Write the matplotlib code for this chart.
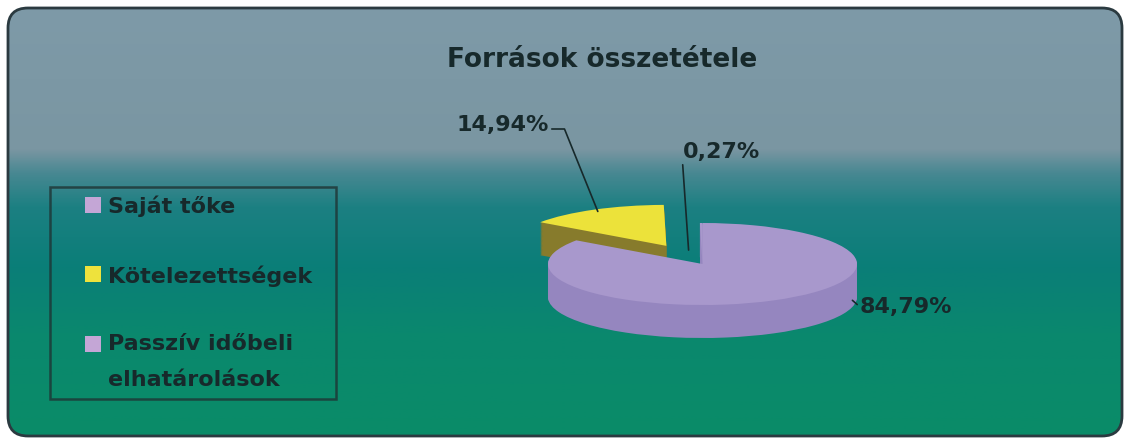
import numpy as np
import matplotlib
matplotlib.use('Agg')
import matplotlib.pyplot as plt
from matplotlib.patches import FancyBboxPatch, Rectangle
from matplotlib.legend_handler import HandlerPatch

# ---------------- data ----------------
title = "Források összetétele"
categories = ["Saját tőke", "Kötelezettségek", "Passzív időbeli\nelhatárolások"]
values = [84.79, 14.94, 0.27]
value_labels = ["84,79%", "14,94%", "0,27%"]

# ---------------- style ----------------
top_colors = ['#a898cc', '#ece23a', '#a898cc']
side_colors = ['#9586bf', '#877b2c', '#9586bf']
legend_colors = ['#c4a6d6', '#eee23c', '#c4a6d6']
explode = [0.0, 0.5, 0.0]
text_color = '#17292b'

W, H = 1129, 441
fig = plt.figure(figsize=(W / 100, H / 100), dpi=100)
fig.patch.set_facecolor('white')

# background panel with vertical gradient
bg = fig.add_axes([0, 0, 1, 1])
bg.set_xlim(0, W)
bg.set_ylim(H, 0)
bg.axis('off')
stops_f = [0.0, 0.33, 0.385, 0.465, 0.605, 0.76, 1.0]
stops_c = np.array([(126, 154, 168), (122, 150, 162), (72, 136, 146), (28, 128, 130),
                    (10, 126, 120), (10, 136, 110), (10, 140, 104)]) / 255.0
f = np.linspace(0, 1, 400)
grad = np.stack([np.interp(f, stops_f, stops_c[:, i]) for i in range(3)], axis=-1)
grad = np.repeat(grad[:, None, :], 2, axis=1)
box = FancyBboxPatch((8, 8), 1114, 428, boxstyle='round,pad=0,rounding_size=20',
                     transform=bg.transData, facecolor='none', edgecolor='#2b3a40', lw=2, zorder=5)
im = bg.imshow(grad, extent=(8, 1122, 436, 8), aspect='auto', zorder=0)
im.set_clip_path(box)
bg.add_patch(box)

fig.text(602 / W, 1 - 60 / H, title, ha='center', va='center', fontsize=19,
         fontweight='bold', color=text_color, family='DejaVu Sans')

# ---------------- 3D-ish pie ----------------
cx, cy, rx, ry = 702.5, 264.0, 154.5, 41.0   # pixel layout of the pie ellipse
ax = fig.add_axes([(cx - 1.6 * rx) / W, (H - cy - 2.0 * ry) / H, 3.2 * rx / W, 3.6 * ry / H])
depth = 33.0 / ry
n = 40
side_z = [3, 1, 3]
top_z = [4, 2, 4]
for k in range(n, 0, -1):
    off = depth * k / n
    ws, _ = ax.pie(values, colors=side_colors, explode=explode, startangle=90,
                   counterclock=False, center=(0, -off),
                   wedgeprops=dict(linewidth=0))
    for w, z in zip(ws, side_z):
        w.set_zorder(z)
wedges, _ = ax.pie(values, colors=top_colors, explode=explode, startangle=90,
                   counterclock=False, center=(0, 0),
                   wedgeprops=dict(linewidth=0))
for w, z in zip(wedges, top_z):
    w.set_zorder(z)
ax.set_aspect('auto')
ax.set_xlim(-1.6, 1.6)
ax.set_ylim(-2.0, 1.6)

# angles of slices
cum = np.concatenate([[0], np.cumsum(values)]) / np.sum(values)
mids = np.deg2rad(90 - 360 * (cum[:-1] + cum[1:]) / 2)

lp = dict(arrowstyle='-', color=text_color, lw=1.2, shrinkA=0, shrinkB=0)
lab_kw = dict(fontsize=16, fontweight='bold', color=text_color, family='DejaVu Sans',
              textcoords='figure pixels', annotation_clip=False, zorder=10)
# Kötelezettségek (exploded)
m = mids[1]
ex, ey = explode[1] * np.cos(m), explode[1] * np.sin(m)
ax.annotate(value_labels[1], xy=(ex + 0.95 * np.cos(m), ey + 0.95 * np.sin(m)),
            xytext=(549, H - 125), ha='right', va='center',
            arrowprops=dict(lp, relpos=(1, 0.3),
                            connectionstyle='angle,angleA=0,angleB=112,rad=0'),
            **lab_kw)
# Passzív
ax.annotate(value_labels[2], xy=(-0.09, 0.34), xytext=(721, H - 152),
            ha='center', va='center', arrowprops=dict(lp, relpos=(0.0, 0.1)), **lab_kw)
# Saját tőke
a = np.deg2rad(-14)
ax.annotate(value_labels[0], xy=(np.cos(a), np.sin(a) - depth * 0.8), xytext=(860, H - 307),
            ha='left', va='center', arrowprops=dict(lp, relpos=(0, 0.5)), **lab_kw)


# ---------------- legend ----------------
def square_handle(legend, orig_handle, xdescent, ydescent, width, height, fontsize):
    s = 0.72 * fontsize
    return Rectangle((-xdescent + width - s, -ydescent + (height - s) / 2), s, s)


handles = [Rectangle((0, 0), 1, 1, facecolor=c, edgecolor='none') for c in legend_colors]
leg = fig.legend(handles, categories, loc='upper left',
                 bbox_to_anchor=(50 / W, 1 - 187 / H - 0.01, 286 / W, 0.01), mode='expand',
                 frameon=True, fancybox=False,
                 prop=dict(family='DejaVu Sans', weight='bold', size=16),
                 labelcolor=text_color, handlelength=1.9, handleheight=0.9,
                 handletextpad=0.3, labelspacing=2.15, borderpad=0.4, borderaxespad=0,
                 handler_map={Rectangle: HandlerPatch(patch_func=square_handle)})
leg.get_frame().set_facecolor('none')
leg.get_frame().set_edgecolor('#1f3434')
leg.get_frame().set_linewidth(1.8)
for t in leg.get_texts():
    t.set_linespacing(1.95)
try:
    for col in leg._legend_handle_box.get_children():
        for item in col.get_children():
            item.align = 'top'
except Exception:
    pass

fig.savefig('out.png', dpi=100, facecolor='white')
